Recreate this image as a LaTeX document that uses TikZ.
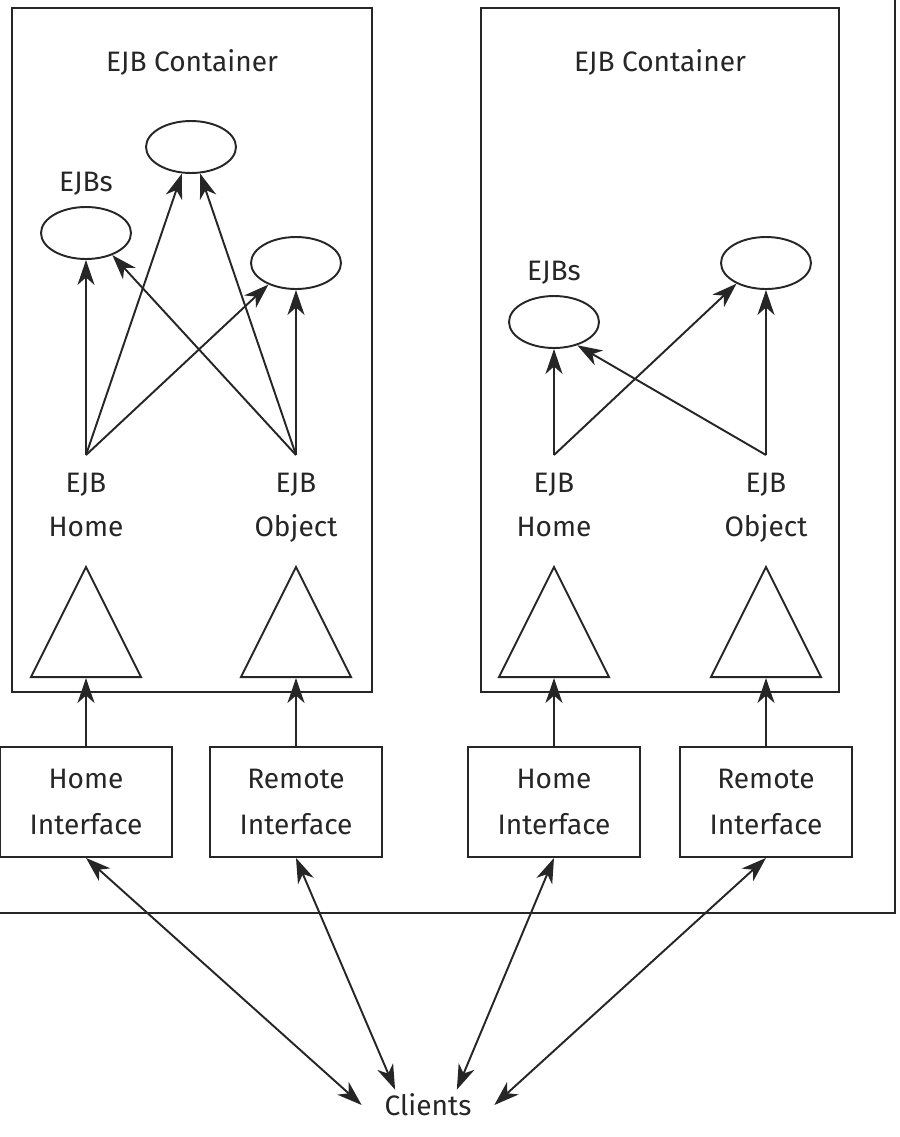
\documentclass[tikz,border=0pt]{standalone}
\usepackage{fontspec}
\setmainfont{Fira Sans}
\usetikzlibrary{arrows.meta,positioning,shapes.geometric}
\definecolor{ink}{HTML}{262626}
\tikzset{bean/.style={draw=ink,ellipse,minimum width=18mm,minimum height=10.4mm,line width=1.1pt},
 iface/.style={draw=ink,line width=1.1pt,minimum width=34.4mm,minimum height=22mm,align=center,
 font=\fontsize{16}{26}\selectfont,text=ink,inner sep=0pt},
 cont/.style={draw=ink,line width=1.2pt},
 stub/.style={draw=ink,isosceles triangle,shape border rotate=90,isosceles triangle stretches,
 minimum width=22mm,minimum height=22mm,inner sep=0pt,line width=1.1pt,anchor=lower side},
 lbl/.style={font=\fontsize{16}{25}\selectfont,text=ink,inner sep=0pt},
 stack/.style={lbl,align=center,inner ysep=3.6mm,anchor=north},
 arr/.style={-{Stealth[length=5mm,width=3.4mm,inset=1.5mm]},line width=1.1pt,draw=ink},
 dbl/.style={{Stealth[length=5mm,width=3.4mm,inset=1.5mm]}-{Stealth[length=5mm,width=3.4mm,inset=1.5mm]},
 line width=1.1pt,draw=ink}}
\begin{document}
\begin{tikzpicture}[x=0.02cm,y=-0.02cm]
\clip (0,0) rectangle (900,1137);
% server box runs off the left and top edges
\draw[cont] (-30,-30) rectangle (895,913);
\draw[cont] (12,8) rectangle (372,692);
\draw[cont] (481,8) rectangle (839,692);

% left container
\node[lbl] (contL) at (192,62) {EJB Container};
\node[bean] (beanLa) at (86,233) {};
\node[bean] (beanLb) at (191,147) {};
\node[bean] (beanLc) at (296,263) {};
\node[lbl,above=2mm of beanLa] (ejbsL) {EJBs};
\node[stack] (homeL) at (86,455) {EJB\\Home};
\node[stack] (objL) at (296,455) {EJB\\Object};
\node[stub] (stubHL) at (86,678) {};
\node[stub] (stubOL) at (296,678) {};

% right container
\node[lbl] (contR) at (660,62) {EJB Container};
\node[bean] (beanRa) at (554,322) {};
\node[bean] (beanRb) at (766,263) {};
\node[lbl,above=2mm of beanRa] (ejbsR) {EJBs};
\node[stack] (homeR) at (554,455) {EJB\\Home};
\node[stack] (objR) at (766,455) {EJB\\Object};
\node[stub] (stubHR) at (554,678) {};
\node[stub] (stubOR) at (766,678) {};

% interfaces and clients
\node[iface] (ifHL) at (86,802) {Home\\Interface};
\node[iface] (ifRL) at (296,802) {Remote\\Interface};
\node[iface] (ifHR) at (554,802) {Home\\Interface};
\node[iface] (ifRR) at (766,802) {Remote\\Interface};
\node[lbl,minimum width=26.4mm,minimum height=6mm] (clients) at (428,1105) {Clients};

\draw[arr] (homeL.north)--(beanLa.south);
\draw[arr] (homeL.north)--(beanLb);
\draw[arr] (homeL.north)--(beanLc.218);
\draw[arr] (objL.north)--(beanLb);
\draw[arr] (objL.north)--(beanLa.-40);
\draw[arr] (objL.north)--(beanLc.south);
\draw[arr] (homeR.north)--(beanRa.south);
\draw[arr] (homeR.north)--(beanRb.215);
\draw[arr] (objR.north)--(beanRb.south);
\draw[arr] (objR.north)--(beanRa.-45);

\draw[arr] (ifHL)--(stubHL.lower side);
\draw[arr] (ifRL)--(stubOL.lower side);
\draw[arr] (ifHR)--(stubHR.lower side);
\draw[arr] (ifRR)--(stubOR.lower side);

\draw[dbl] (ifHL.south)--(clients.west);
\draw[dbl] (ifRL.south)--(clients.155);
\draw[dbl] (ifHR.south)--(clients.28);
\draw[dbl] (ifRR.south)--(clients.east);
\end{tikzpicture}
\end{document}
